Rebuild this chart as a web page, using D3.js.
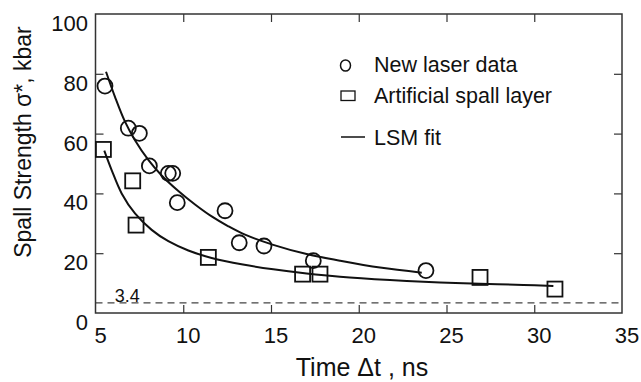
<!DOCTYPE html>
<html><head><meta charset="utf-8">
<script src="https://cdn.jsdelivr.net/npm/d3@7"></script>
<style>body{margin:0;background:#fff}svg{display:block;font-family:"Liberation Sans",Arial,Helvetica,sans-serif}</style>
</head><body>
<svg id="c" width="641" height="382"></svg>
<script>
// New laser data (time ns, spall strength kbar)
const laserT = [5.54, 6.87, 7.5, 8.07, 9.15, 9.4, 9.66, 12.38, 13.19, 14.6, 17.41, 23.83];
const laserS = [75.9, 61.8, 60.1, 49.2, 46.7, 46.7, 36.9, 34.2, 23.5, 22.4, 17.5, 14.2];
// Artificial spall layer
const artT = [5.45, 7.12, 7.31, 11.43, 16.8, 17.79, 26.91, 31.18];
const artS = [54.7, 44.2, 29.4, 18.6, 13.0, 13.0, 11.9, 8.0];
// LSM fit curves
const fitLaserT = [5.60, 6.11, 6.68, 7.25, 8.01, 8.77, 9.72, 10.67, 11.62, 12.57, 13.52, 15.13, 17.03, 18.93, 21.21, 23.59];
const fitLaserS = [80.7, 72.3, 64.0, 57.8, 51.2, 46.0, 40.8, 36.3, 32.3, 29.0, 26.2, 22.8, 19.7, 17.5, 15.2, 13.5];
const fitArtT = [5.50, 5.92, 6.49, 7.25, 8.20, 9.15, 10.29, 11.62, 13.4, 15.13, 17.03, 18.93, 21.78, 24.63, 26.91, 29.38, 31.09];
const fitArtS = [54.3, 47.8, 40.0, 33.3, 27.8, 24.0, 20.9, 18.4, 16.2, 14.6, 13.2, 12.1, 11.0, 10.2, 9.8, 9.4, 9.0];
const xTicks = [5, 10, 15, 20, 25, 30, 35];
const yTicks = [0, 20, 40, 60, 80, 100];
const threshold = 3.4;
const legendLabels = ["New laser data", "Artificial spall layer", "LSM fit"];

const svg = d3.select("#c");
const L = 95.5, R = 622, T = 14, B = 313;
const x = d3.scaleLinear().domain([5, 35]).range([L, R]);
const y = d3.scaleLinear().domain([0, 100]).range([B, T]);
const axisCol = "#333";

// threshold dashed line
svg.append("line").attr("x1", L).attr("x2", R).attr("y1", y(threshold)).attr("y2", y(threshold))
  .attr("stroke", "#444").attr("stroke-width", 1.2).attr("stroke-dasharray", "7,5");
svg.append("text").attr("x", x(6.1)).attr("y", y(threshold) - 1).attr("font-size", 18).attr("fill", "#111").text(threshold);

// axes (ticks inward)
const inner = xTicks.filter(d => d > 5 && d < 35);
const innerY = yTicks.filter(d => d > 0 && d < 100);
function styleAx(g) { g.select(".domain").remove(); g.selectAll("line").attr("stroke", axisCol).attr("stroke-width", 1.2); g.selectAll("text").remove(); }
svg.append("g").attr("transform", `translate(0,${B})`).call(d3.axisBottom(x).tickValues(inner).tickSizeInner(-8).tickSizeOuter(0)).call(styleAx);
svg.append("g").attr("transform", `translate(0,${T})`).call(d3.axisTop(x).tickValues(inner).tickSizeInner(-8).tickSizeOuter(0)).call(styleAx);
svg.append("g").attr("transform", `translate(${L},0)`).call(d3.axisLeft(y).tickValues(innerY).tickSizeInner(-8).tickSizeOuter(0)).call(styleAx);
svg.append("g").attr("transform", `translate(${R},0)`).call(d3.axisRight(y).tickValues(innerY).tickSizeInner(-8).tickSizeOuter(0)).call(styleAx);
svg.append("rect").attr("x", L).attr("y", T).attr("width", R - L).attr("height", B - T)
  .attr("fill", "none").attr("stroke", axisCol).attr("stroke-width", 1.5);

// tick labels
svg.append("g").selectAll("text").data(xTicks).join("text")
  .attr("x", d => x(d) + 5).attr("y", 343).attr("text-anchor", "middle").attr("font-size", 22).attr("fill", "#111").text(d => d);
svg.append("g").selectAll("text").data(yTicks).join("text")
  .attr("x", 88).attr("y", d => y(d) + 17).attr("text-anchor", "end").attr("font-size", 22).attr("fill", "#111").text(d => d);

// axis titles
svg.append("text").attr("x", 362).attr("y", 376).attr("text-anchor", "middle").attr("font-size", 25).attr("fill", "#111")
  .text("Time Δt , ns");
svg.append("text").attr("transform", "translate(31,142) rotate(-90)").attr("text-anchor", "middle").attr("font-size", 23).attr("fill", "#111")
  .text("Spall Strength σ*, kbar");

// fit curves
const line = d3.line().x(d => x(d[0])).y(d => y(d[1])).curve(d3.curveCatmullRom);
svg.append("path").attr("d", line(d3.zip(fitLaserT, fitLaserS))).attr("fill", "none").attr("stroke", "#111").attr("stroke-width", 2);
svg.append("path").attr("d", line(d3.zip(fitArtT, fitArtS))).attr("fill", "none").attr("stroke", "#111").attr("stroke-width", 2);

// markers
svg.append("g").selectAll("circle").data(d3.zip(laserT, laserS)).join("circle")
  .attr("cx", d => x(d[0])).attr("cy", d => y(d[1])).attr("r", 7.5)
  .attr("fill", "none").attr("stroke", "#111").attr("stroke-width", 1.8);
const sq = 15;
svg.append("g").selectAll("rect").data(d3.zip(artT, artS)).join("rect")
  .attr("x", d => x(d[0]) - sq / 2).attr("y", d => y(d[1]) - sq / 2).attr("width", sq).attr("height", sq)
  .attr("fill", "none").attr("stroke", "#111").attr("stroke-width", 1.8);

// legend
const lg = svg.append("g");
lg.append("ellipse").attr("cx", 345.5).attr("cy", 65.5).attr("rx", 5).attr("ry", 5.5).attr("fill", "none").attr("stroke", "#111").attr("stroke-width", 1.5);
lg.append("rect").attr("x", 341).attr("y", 91).attr("width", 14).attr("height", 9.5).attr("fill", "none").attr("stroke", "#111").attr("stroke-width", 1.3);
lg.append("line").attr("x1", 341).attr("x2", 365).attr("y1", 137).attr("y2", 137).attr("stroke", "#111").attr("stroke-width", 1.5);
lg.selectAll("text").data(legendLabels).join("text")
  .attr("x", 374).attr("y", (d, i) => [72, 102.5, 145][i]).attr("font-size", 21.5).attr("fill", "#111").text(d => d);
</script>
</body></html>
